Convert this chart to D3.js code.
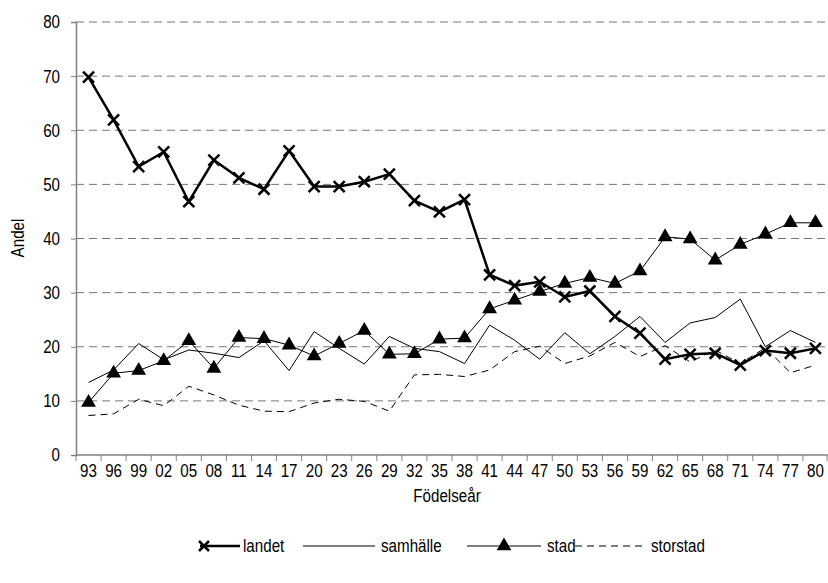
<!DOCTYPE html>
<html><head><meta charset="utf-8">
<script src="https://cdn.jsdelivr.net/npm/d3@7"></script>
<style>
body{margin:0;background:#fff;}
text{font-family:"Liberation Sans Narrow","Arial Narrow","Liberation Sans",Arial,sans-serif;fill:#000;}
</style></head><body>
<svg id="c" width="828" height="583"></svg>
<script>
const years = ["93","96","99","02","05","08","11","14","17","20","23","26","29","32","35","38","41","44","47","50","53","56","59","62","65","68","71","74","77","80"];
const landet = [69.8,61.9,53.3,56.0,46.8,54.5,51.2,49.1,56.2,49.6,49.6,50.5,51.9,47.0,44.9,47.2,33.3,31.3,32.0,29.2,30.3,25.6,22.5,17.7,18.6,18.8,16.6,19.3,18.8,19.7];
const samhalle = [13.4,15.7,20.6,17.6,19.4,18.8,18.0,21.1,15.6,22.8,19.7,16.8,21.9,19.7,19.1,16.9,24.0,21.2,17.7,22.6,18.7,21.9,25.6,20.8,24.4,25.4,28.8,20.0,23.0,20.8];
const stad = [9.7,15.1,15.6,17.4,21.1,16.0,21.7,21.5,20.3,18.3,20.6,23.0,18.6,18.7,21.4,21.6,27.0,28.6,30.2,31.7,32.8,31.7,34.0,40.3,39.9,36.0,38.9,40.8,42.9,42.9];
const storstad = [7.3,7.6,10.3,9.1,12.7,11.1,9.2,8.1,8.0,9.6,10.3,9.9,8.1,14.8,14.9,14.5,15.7,19.1,20.1,16.9,18.3,20.8,18.2,20.2,17.2,19.4,16.9,19.8,15.2,16.6];
const yTicks = [0,10,20,30,40,50,60,70,80];
const seriesNames = ["landet","samhälle","stad","storstad"];

const FS = 18.5, SX = 0.82;
const svg = d3.select("#c");
const L = 76, R = 828, T = 22, B = 455;
const x = d3.scaleBand().domain(years).range([L, R]);
const y = d3.scaleLinear().domain([0, 80]).range([B, T]);
const cx = d => x(d) + x.bandwidth()/2;

// gridlines
svg.append("g").selectAll("line").data(yTicks.filter(v => v > 0)).join("line")
  .attr("x1", L).attr("x2", 826).attr("y1", d => y(d)).attr("y2", d => y(d))
  .attr("stroke", "#777").attr("stroke-width", 1).attr("stroke-dasharray", "8,5");

// y axis
const ya = svg.append("g").attr("transform", `translate(${L},0)`)
  .call(d3.axisLeft(y).tickValues(yTicks).tickSize(5).tickPadding(6).tickFormat(d3.format("d")));
ya.select(".domain").attr("stroke", "#808080").attr("stroke-width", 1.5);
ya.selectAll(".tick line").attr("stroke", "#808080");
ya.selectAll("text").attr("font-size", FS).attr("x", -16 / SX).attr("transform", `scale(${SX},1)`)
  .style("font-family", '"Liberation Sans",Arial,sans-serif');

// x axis
const xa = svg.append("g").attr("transform", `translate(0,${B})`)
  .call(d3.axisBottom(x).tickSize(0).tickPadding(12));
xa.select(".domain").attr("stroke", "#808080").attr("stroke-width", 1.5).attr("d", `M${L},0H${R}`);
xa.selectAll("text").attr("font-size", FS).attr("dy", null).attr("y", 22).attr("transform", `scale(${SX},1)`)
  .style("font-family", '"Liberation Sans",Arial,sans-serif');
// tick marks between categories
const bounds = years.map(d => x(d)).concat([R - 1]);
xa.append("g").selectAll("line").data(bounds).join("line")
  .attr("x1", d => d).attr("x2", d => d).attr("y1", 0).attr("y2", 6)
  .attr("stroke", "#808080");

const line = d3.line().x((d, i) => cx(years[i])).y(d => y(d));

function drawLine(vals, w, dash) {
  svg.append("path").datum(vals).attr("d", line)
    .attr("fill", "none").attr("stroke", "#000").attr("stroke-width", w)
    .attr("stroke-dasharray", dash || null).attr("stroke-linejoin", "miter");
}
drawLine(storstad, 1, "7,5");
drawLine(samhalle, 1);
drawLine(stad, 1);
drawLine(landet, 2.5);

// markers
const tri = d3.symbol().type(d3.symbolTriangle).size(95);
svg.append("g").selectAll("path").data(stad).join("path")
  .attr("d", tri).attr("transform", (d, i) => `translate(${cx(years[i])},${y(d)})`).attr("fill", "#000");
function cross(g, px, py, s) {
  g.append("path").attr("d", `M${px-s},${py-s}L${px+s},${py+s}M${px-s},${py+s}L${px+s},${py-s}`)
    .attr("stroke", "#000").attr("stroke-width", 2.5).attr("fill", "none");
}
const cg = svg.append("g");
landet.forEach((d, i) => cross(cg, cx(years[i]), y(d), 5.5));

function narrowText(px, py, str, anchor, rot) {
  const g = svg.append("g").attr("transform", `translate(${px},${py})` + (rot ? ` rotate(${rot})` : "") + ` scale(${SX},1)`);
  g.append("text").attr("x", 0).attr("y", 0).attr("text-anchor", anchor).attr("font-size", FS)
    .style("font-family", '"Liberation Sans",Arial,sans-serif').text(str);
}
// axis titles
narrowText(447, 502, "Födelseår", "middle");
narrowText(24, 238, "Andel", "middle", -90);

// legend
const ly = 546;
const lg = svg.append("g");
const items = [
  {x1: 200, x2: 240, tx: 243, w: 2.5, dash: null, mark: "x"},
  {x1: 303, x2: 375, tx: 381, w: 1, dash: null, mark: null},
  {x1: 467, x2: 541, tx: 547, w: 1, dash: null, mark: "tri"},
  {x1: 575, x2: 645, tx: 651, w: 1, dash: "7,5", mark: null}
];
items.forEach((it, i) => {
  lg.append("line").attr("x1", it.x1).attr("x2", it.x2).attr("y1", ly).attr("y2", ly)
    .attr("stroke", "#000").attr("stroke-width", it.w).attr("stroke-dasharray", it.dash);
  const mx = (it.x1 + it.x2) / 2;
  if (it.mark === "x") cross(lg, it.x1 + 4, ly, 5);
  if (it.mark === "tri") lg.append("path").attr("d", tri).attr("transform", `translate(${mx},${ly})`).attr("fill", "#000");
  narrowText(it.tx, ly + 6, seriesNames[i], "start");
});
</script>
</body></html>
